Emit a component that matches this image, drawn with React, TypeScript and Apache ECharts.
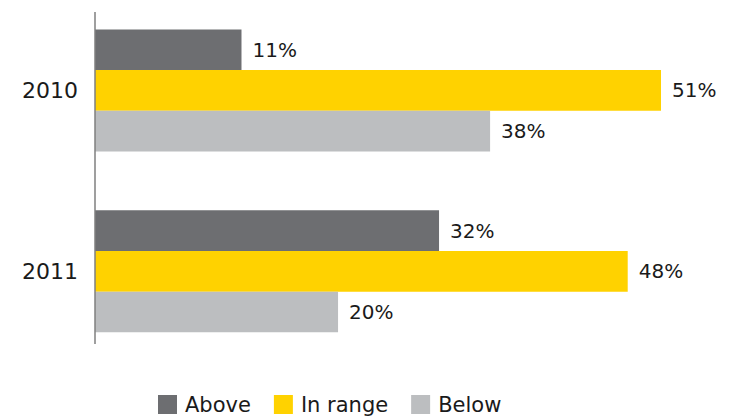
import React, { useEffect, useRef } from "react";
import * as echarts from "echarts";

const categories = ["2010", "2011"];
const seriesNames = ["Above", "In range", "Below"];
const colors = ["#6d6e71", "#ffd200", "#bcbec0"];
// bar lengths
const aboveValues = [13.2, 31.0];
const inRangeValues = [51.0, 48.0];
const belowValues = [35.6, 21.9];
// labels as printed in the picture
const aboveLabels = ["11%", "32%"];
const inRangeLabels = ["51%", "48%"];
const belowLabels = ["38%", "20%"];

const FONT = "DejaVu Sans";

export default function App() {
  const ref = useRef<HTMLDivElement>(null);
  useEffect(() => {
    if (!ref.current) return;
    const chart = echarts.init(ref.current, null, { renderer: "svg" });
    const values = [aboveValues, inRangeValues, belowValues];
    const labels = [aboveLabels, inRangeLabels, belowLabels];
    chart.setOption({
      animation: false,
      backgroundColor: "#ffffff",
      grid: { left: 95, right: 26.6, top: -3.25, bottom: 55.25, containLabel: false },
      xAxis: {
        type: "value",
        min: 0,
        max: 55,
        show: false,
      },
      yAxis: {
        type: "category",
        data: categories,
        inverse: true,
        axisLine: { show: false },
        axisTick: { show: false },
        splitLine: { show: false },
        axisLabel: { fontSize: 22, color: "#1a1a1a", fontFamily: FONT, margin: 17 },
      },
      legend: {
        left: 158,
        top: 394,
        padding: 0,
        icon: "rect",
        itemWidth: 19,
        itemHeight: 19,
        itemGap: 23,
        textStyle: {
          fontSize: 21,
          lineHeight: 19,
          color: "#1a1a1a",
          fontFamily: FONT,
          padding: [0, 0, 0, 3],
        },
        data: seriesNames,
      },
      graphic: [
        {
          type: "line",
          shape: { x1: 95, y1: 12, x2: 95, y2: 344 },
          style: { stroke: "#7f7f7f", lineWidth: 1.5 },
          z: 10,
        },
      ],
      series: seriesNames.map((name, i) => ({
        name,
        type: "bar",
        data: values[i],
        barWidth: 40.7,
        barGap: "0%",
        itemStyle: { color: colors[i] },
        label: {
          show: true,
          position: "right",
          distance: 11,
          fontSize: 20,
          color: "#1a1a1a",
          fontFamily: FONT,
          formatter: (p: any) => labels[i][p.dataIndex],
        },
      })),
    });
    return () => chart.dispose();
  }, []);
  return (
    <div
      ref={ref}
      style={{ position: "fixed", left: 0, top: 0, width: 732, height: 417, background: "#fff" }}
    />
  );
}
